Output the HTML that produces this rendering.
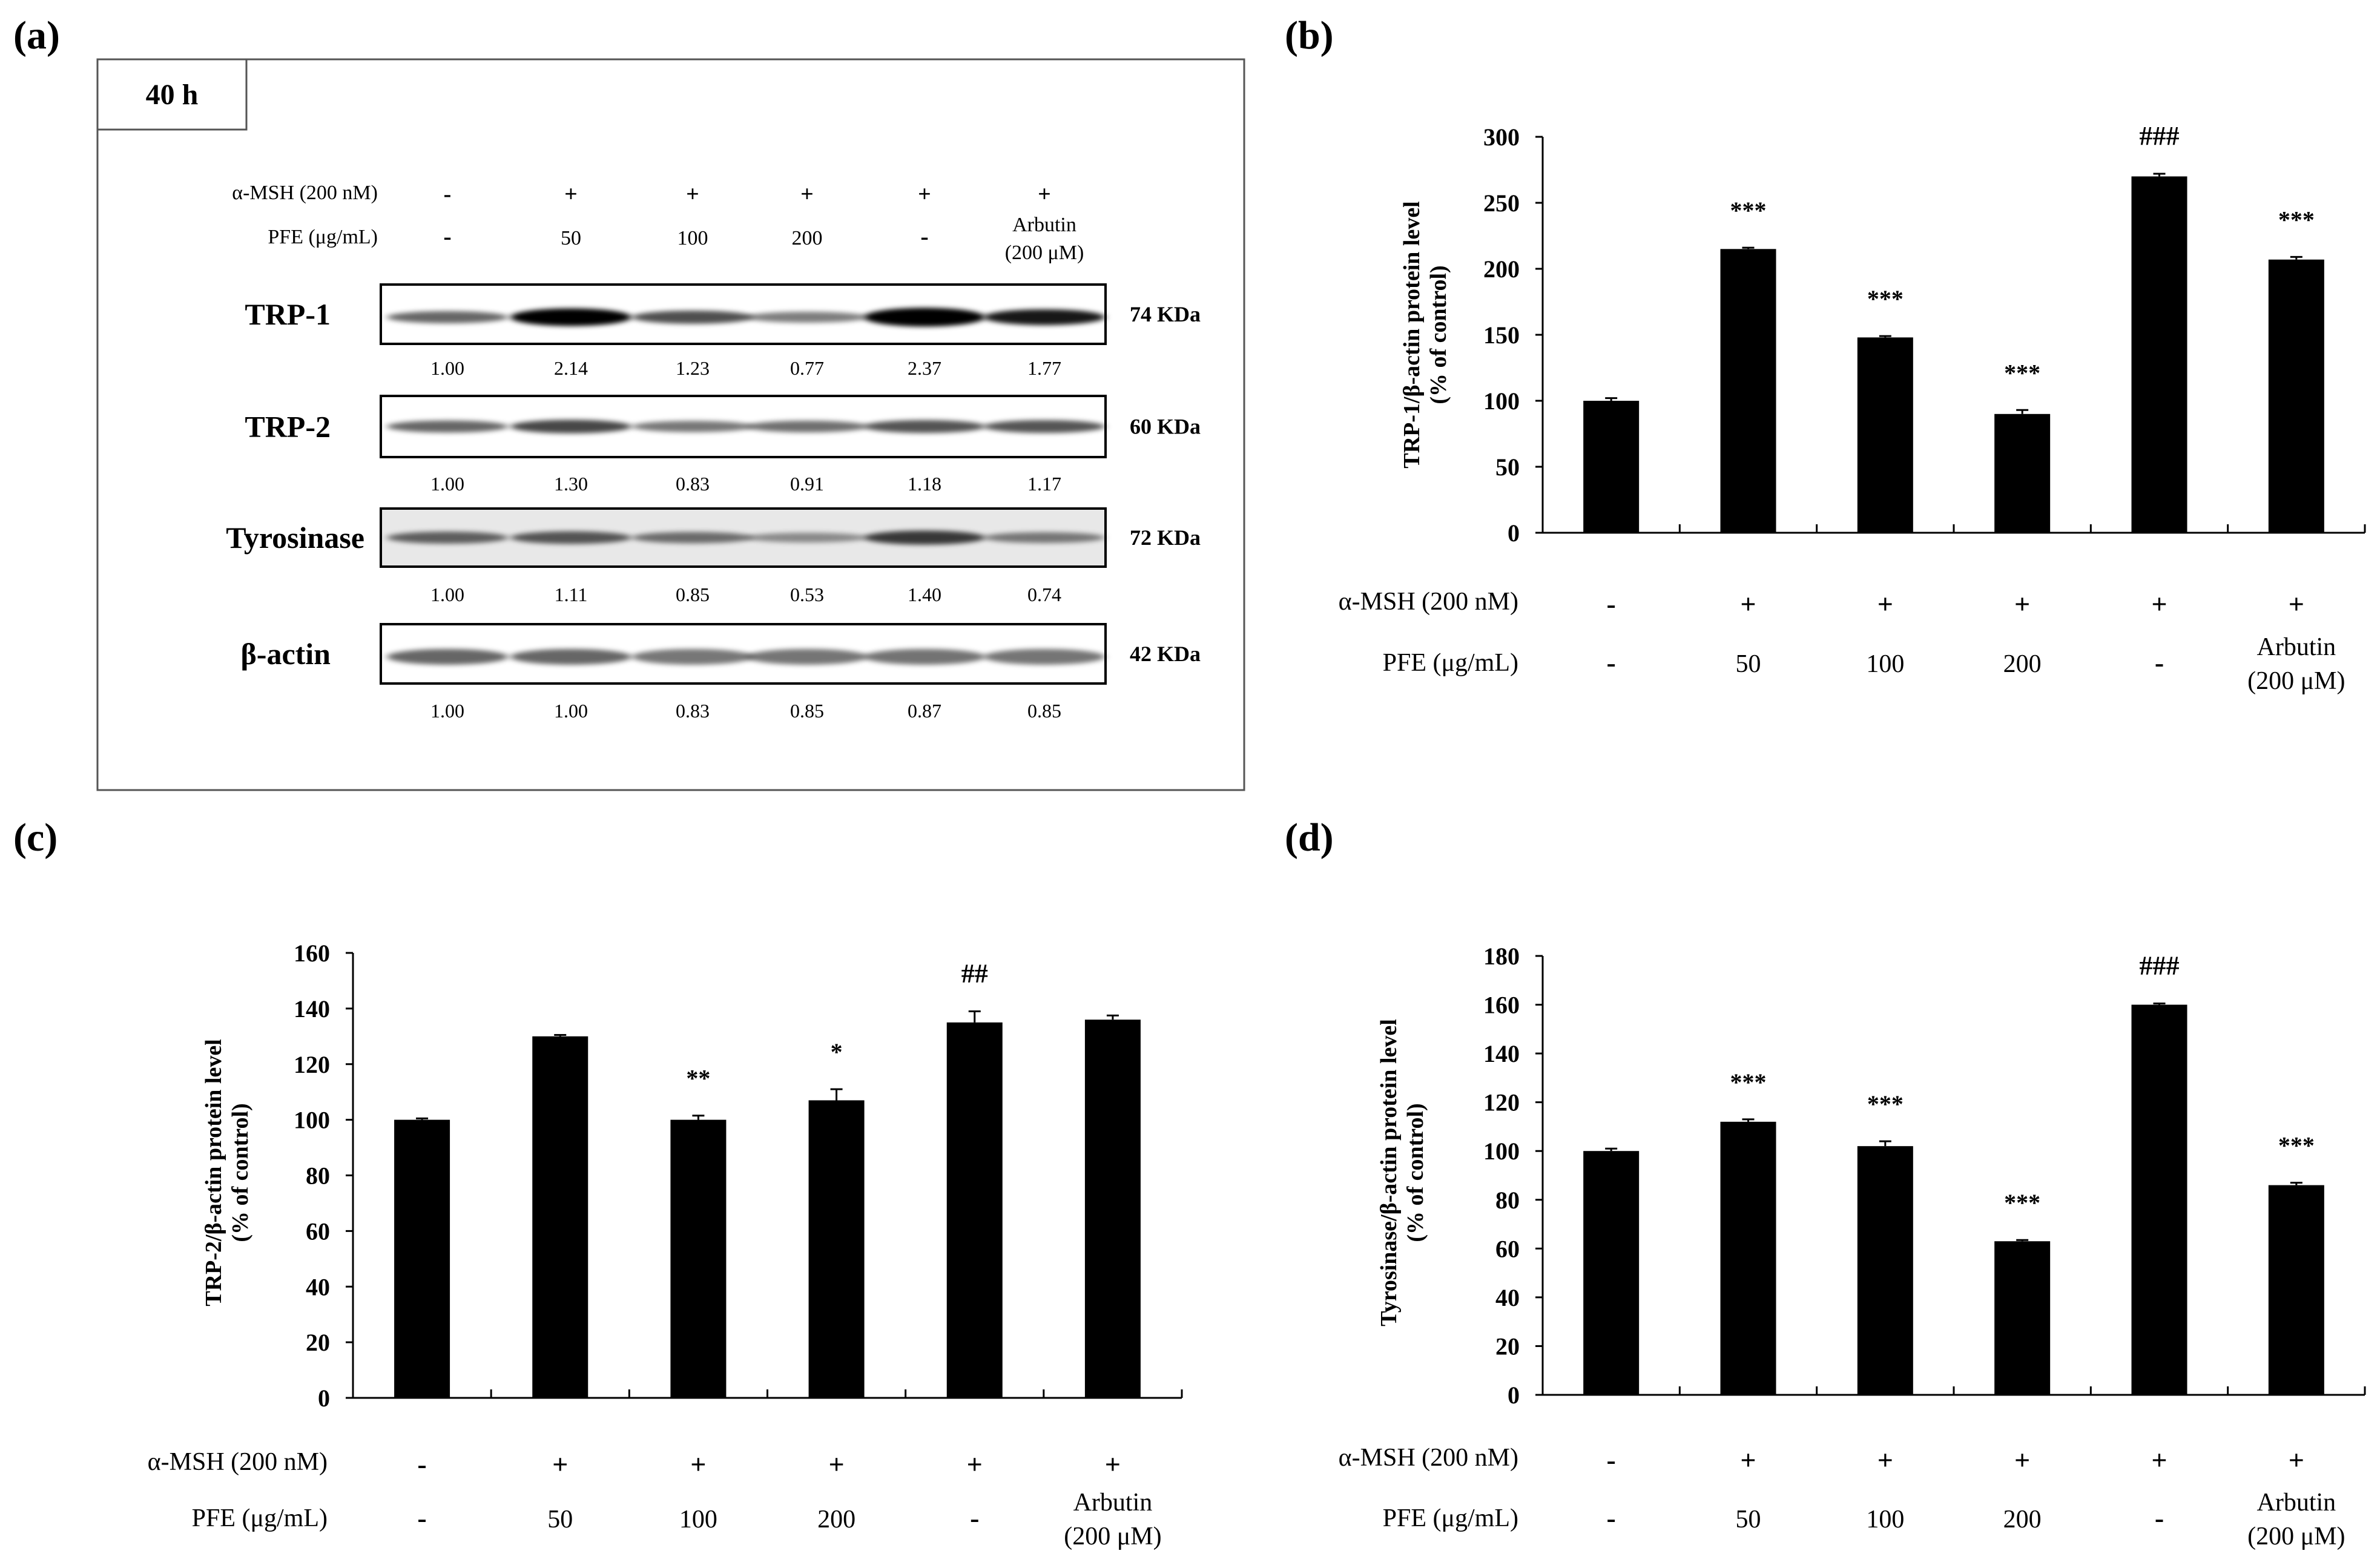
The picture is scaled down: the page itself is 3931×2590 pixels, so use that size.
<!DOCTYPE html>
<html><head><meta charset="utf-8">
<style>
html,body{margin:0;padding:0;background:#fff;}
svg{display:block;font-family:"Liberation Serif",serif;}
</style></head>
<body>
<svg id="fig" width="3931" height="2590" viewBox="0 0 3931 2590" xmlns="http://www.w3.org/2000/svg">
<defs>
<filter id="blur" x="-20%" y="-100%" width="140%" height="300%"><feGaussianBlur stdDeviation="6 4"/></filter>
</defs>
<g id="panelA"></g>
<g id="chartB"></g>
<g id="chartC"></g>
<g id="chartD"></g>
</svg>
<script>
// ---- chart data ----
const groups = ["ctrl","msh","pfe50","pfe100","pfe200","arbutin"];
const mshLabels = ["-","+","+","+","+","+"];
const pfeLabels = ["-","50","100","200","-","Arbutin"];
const trp1Values = [100,215,148,90,270,207];
const trp1Errors = [2,1,1,3,2,2];
const trp1Sig = ["","***","***","***","###","***"];
const trp1Ticks = [0,50,100,150,200,250,300];
const trp2Values = [100,130,100,107,135,136];
const trp2Errors = [0.5,0.5,1.5,4,4,1.5];
const trp2Sig = ["","","**","*","##",""];
const trp2Ticks = [0,20,40,60,80,100,120,140,160];
const tyrValues = [100,112,102,63,160,86];
const tyrErrors = [1,1,2,0.5,0.5,1];
const tyrSig = ["","***","***","***","###","***"];
const tyrTicks = [0,20,40,60,80,100,120,140,160,180];
// blot quantification
const trp1Quant = ["1.00","2.14","1.23","0.77","2.37","1.77"];
const trp2Quant = ["1.00","1.30","0.83","0.91","1.18","1.17"];
const tyrQuant = ["1.00","1.11","0.85","0.53","1.40","0.74"];
const actinQuant = ["1.00","1.00","0.83","0.85","0.87","0.85"];

const NS="http://www.w3.org/2000/svg";
function mk(parent,tag,attrs,text){
  const e=document.createElementNS(NS,tag);
  for(const k in attrs) e.setAttribute(k,attrs[k]);
  if(text!==undefined) e.textContent=text;
  parent.appendChild(e); return e;
}

const fig=document.getElementById('fig');
[["(a)",22,80],["(b)",2122,80],["(c)",22,1405],["(d)",2122,1405]].forEach(p=>{
  const t=mk(fig,'text',{x:p[1],y:p[2],'font-size':66,'font-weight':'bold'},p[0]);
  
  
});

// ---- Panel A: western blot ----
(function(){
  const g=document.getElementById('panelA');
  const box=mk(g,'rect',{x:161,y:98,width:1894,height:1207,fill:'none',stroke:'#555','stroke-width':3});
  
  
  const hb=mk(g,'rect',{x:161,y:98,width:246,height:116,fill:'#fff',stroke:'#555','stroke-width':3});
  
  
  const ht=mk(g,'text',{x:284,y:172,'font-size':48,'font-weight':'bold','text-anchor':'middle'},'40 h');
  
  
  const lanes=[739,943,1144,1333,1527,1725];
  let t=mk(g,'text',{x:624,y:329,'font-size':34,'text-anchor':'end'},'α-MSH (200 nM)');
  
  
  t=mk(g,'text',{x:624,y:402,'font-size':34,'text-anchor':'end'},'PFE (μg/mL)');
  
  
  lanes.forEach((x,i)=>{
    let a=mk(g,'text',{x:x,y:333,'font-size':38,'font-weight':'bold','text-anchor':'middle'},mshLabels[i]);
    
    
    if(i===5){
      a=mk(g,'text',{x:x,y:382,'font-size':34,'text-anchor':'middle'},'Arbutin');
      
      
      a=mk(g,'text',{x:x,y:428,'font-size':34,'text-anchor':'middle'},'(200 μM)');
      
      
    } else {
      a=mk(g,'text',{x:x,y:404,'font-size':pfeLabels[i]==='-'?40:34,'font-weight':pfeLabels[i]==='-'?'bold':'normal','text-anchor':'middle'},pfeLabels[i]);
      
      
    }
  });
  const rows=[
    {name:'TRP-1',y:470,h:98,kda:'74 KDa',q:trp1Quant,qy:619,bandY:0.55,bg:'#fff'},
    {name:'TRP-2',y:654,h:101,kda:'60 KDa',q:trp2Quant,qy:810,bandY:0.5,bg:'#fff'},
    {name:'Tyrosinase',y:840,h:96,kda:'72 KDa',q:tyrQuant,qy:993,bandY:0.5,bg:'#e8e8e8'},
    {name:'β-actin',y:1031,h:98,kda:'42 KDa',q:actinQuant,qy:1185,bandY:0.55,bg:'#fff'}
  ];
  rows.forEach(r=>{
    const rg=mk(g,'g',{});
    
    
    mk(rg,'rect',{x:629,y:r.y,width:1197,height:r.h,fill:r.bg});
    lanes.forEach((x,i)=>{
      const v=parseFloat(r.q[i]);
      const op=Math.min(1,0.2+v*0.4);
      const bh=r.name==='β-actin'?26:(12+v*8);
      const b=mk(rg,'ellipse',{cx:x,cy:r.y+r.h*r.bandY,rx:100,ry:bh/2,fill:'#000','fill-opacity':op,filter:'url(#blur)'});
      
      
    });
    mk(rg,'rect',{x:629,y:r.y,width:1197,height:r.h,fill:'none',stroke:'#000','stroke-width':4});
    let lab=mk(rg,'text',{x:r.name==='Tyrosinase'?602:546,y:r.y+r.h/2+17,'font-size':50,'font-weight':'bold','text-anchor':'end'},r.name);
    
    
    lab=mk(rg,'text',{x:1866,y:r.y+r.h/2+12,'font-size':36,'font-weight':'bold'},r.kda);
    
    
    lanes.forEach((x,i)=>{
      const q=mk(rg,'text',{x:x,y:r.qy,'font-size':32,'text-anchor':'middle'},r.q[i]);
      
      
    });
  });
})();

// ---- bar charts ----
function barChart(id,o){
  const g=document.getElementById(id);
  const x0=o.x0,x1=o.x1,y0=o.y0,yTop=o.yTop,vmax=o.ticks[o.ticks.length-1];
  const ys=v=>y0-(v/vmax)*(y0-yTop);
  const gw=(x1-x0)/o.values.length;
  const xs=i=>x0+gw*(i+0.5);
  const ax=mk(g,'line',{x1:x0,y1:y0,x2:x1,y2:y0,stroke:'#000','stroke-width':3});
  
  
  const ay=mk(g,'line',{x1:x0,y1:y0,x2:x0,y2:yTop,stroke:'#000','stroke-width':3});
  
  
  o.ticks.forEach(t=>{
    const y=ys(t);
    mk(g,'line',{x1:x0-12,y1:y,x2:x0,y2:y,stroke:'#000','stroke-width':3});
    const tl=mk(g,'text',{x:x0-38,y:y+14,'font-size':40,'font-weight':'bold','text-anchor':'end'},String(t));
    
    
  });
  for(let i=1;i<=o.values.length;i++){
    mk(g,'line',{x1:x0+gw*i,y1:y0,x2:x0+gw*i,y2:y0-14,stroke:'#000','stroke-width':3});
  }
  o.values.forEach((v,i)=>{
    const cx=xs(i),bw=92;
    const bar=mk(g,'rect',{x:cx-bw/2,y:ys(v),width:bw,height:y0-ys(v),fill:'#000'});
    
    
    const e=o.errors[i];
    const eb=mk(g,'path',{d:`M${cx} ${ys(v)} V${ys(v+e)} M${cx-10} ${ys(v+e)} H${cx+10}`,stroke:'#000','stroke-width':3,fill:'none'});
    
    
    if(o.sig[i]){
      const st=mk(g,'text',{x:cx,y:ys(v+e)-48,'font-size':o.sig[i][0]==='#'?44:40,'font-weight':'bold','text-anchor':'middle'},o.sig[i]);
      
      
    }
  });
  const yl=mk(g,'text',{transform:`translate(${o.ylx},${o.ylcy}) rotate(-90)`,'font-size':38,'font-weight':'bold','text-anchor':'middle'});
  
  
  mk(yl,'tspan',{x:0,dy:0},o.ylabel);
  mk(yl,'tspan',{x:0,dy:44},'(% of control)');
  let l=mk(g,'text',{x:o.labRight,y:o.mshY+14,'font-size':42,'text-anchor':'end'},'α-MSH (200 nM)');
  
  
  l=mk(g,'text',{x:o.labRight,y:o.pfeY+14,'font-size':42,'text-anchor':'end'},'PFE (μg/mL)');
  
  
  o.values.forEach((v,i)=>{
    const cx=xs(i);
    let c=mk(g,'text',{x:cx,y:o.mshY+20,'font-size':46,'font-weight':'bold','text-anchor':'middle'},mshLabels[i]);
    
    
    if(i===5){
      c=mk(g,'text',{x:cx,y:o.pfeY-12,'font-size':42,'text-anchor':'middle'},'Arbutin');
      
      
      c=mk(g,'text',{x:cx,y:o.pfeY+44,'font-size':42,'text-anchor':'middle'},'(200 μM)');
      
      
    } else {
      const dash=pfeLabels[i]==='-';
      c=mk(g,'text',{x:cx,y:o.pfeY+16,'font-size':dash?46:42,'font-weight':dash?'bold':'normal','text-anchor':'middle'},pfeLabels[i]);
      
      
    }
  });
}
barChart('chartB',{x0:2548,x1:3906,y0:880,yTop:226,ticks:trp1Ticks,values:trp1Values,errors:trp1Errors,sig:trp1Sig,
  ylabel:'TRP-1/β-actin protein level',ylx:2344,ylcy:553,labRight:2508,mshY:993,pfeY:1094});
barChart('chartC',{x0:583,x1:1952,y0:2309,yTop:1574,ticks:trp2Ticks,values:trp2Values,errors:trp2Errors,sig:trp2Sig,
  ylabel:'TRP-2/β-actin protein level',ylx:365,ylcy:1937,labRight:541,mshY:2414,pfeY:2507});
barChart('chartD',{x0:2548,x1:3906,y0:2304,yTop:1579,ticks:tyrTicks,values:tyrValues,errors:tyrErrors,sig:tyrSig,
  ylabel:'Tyrosinase/β-actin protein level',ylx:2306,ylcy:1937,labRight:2508,mshY:2407,pfeY:2507});
</script>
</body></html>
